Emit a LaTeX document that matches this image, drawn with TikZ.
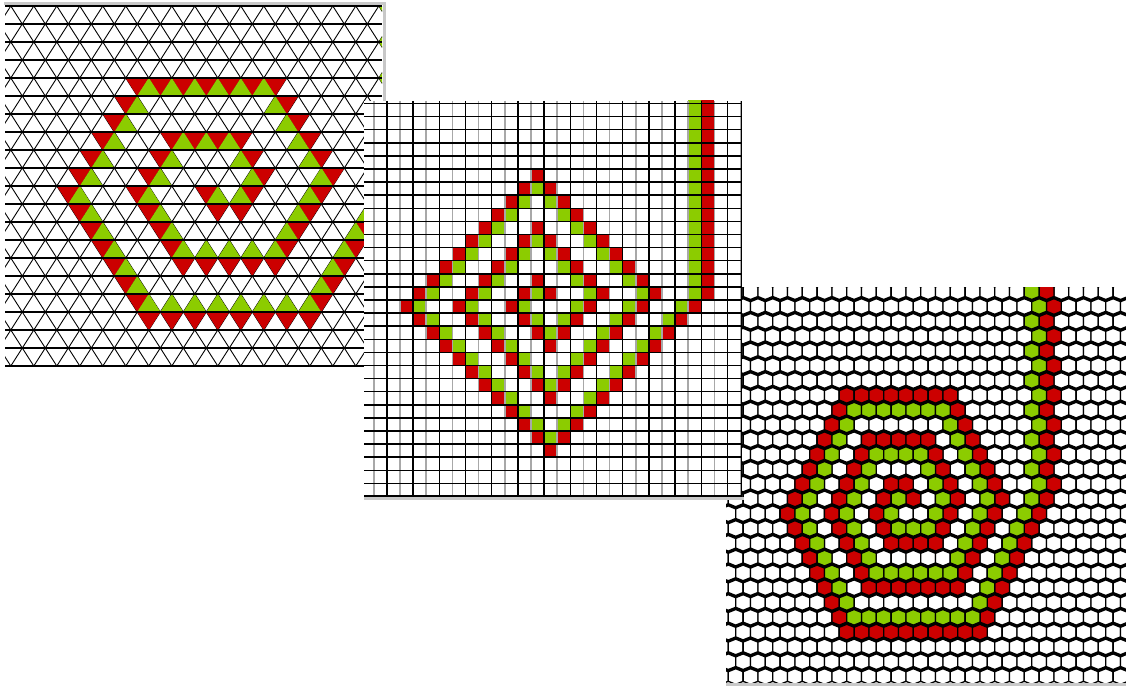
\documentclass[tikz,border=0pt]{standalone}
\usepackage{xcolor}
\usepackage{tikz}
\definecolor{cVerm}{HTML}{CC0000}
\definecolor{cVerd}{HTML}{8CCC00}
\definecolor{cCinza}{HTML}{A8A8A8}
\definecolor{cBorda}{HTML}{C8C8C8}

% ---- celulas das tres redes
\newcommand{\triBx}[3]{\fill[#3] ({171.8+23*(#1)-11.5*(#2)},{6+18*(#2)}) -- ++(23,0) -- ++(-11.5,18) -- cycle;}
\newcommand{\triCm}[3]{\fill[#3] ({171.8+23*(#1)-11.5*(#2)},{6+18*(#2)}) -- ++(11.5,18) -- ++(-23,0) -- cycle;}
\newcommand{\celQ}[3]{\fill[#3] ({400+13.1*(#1)},{300+13.1*(#2)}) rectangle ++(13.1,13.1);}
\newcommand{\celA}[3]{\filldraw[hexc,fill=#3] ({839.3+14.8*(#1)+7.4*(#2)},{291.7+14.8*(#2)})
  ++(0,-7.8) -- ++(7.4,3) -- ++(0,9.6) -- ++(-7.4,3) -- ++(-7.4,-3) -- ++(0,-9.6) -- cycle;}

\begin{document}
\begin{tikzpicture}[
  x=1pt,y=-1pt,
  linhaH/.style={draw=black,line width=1.6pt},
  linhaD/.style={draw=black,line width=0.9pt},
  gradeP/.style={draw=black,line width=1.5pt},
  gradeC/.style={draw=cCinza,line width=1.5pt},
  hexc/.style={draw=black,line width=1.3pt,line join=round},
  borda/.style={draw=cBorda,line width=2.5pt}
]
\useasboundingbox[fill=white] (0,0) rectangle (1126,690);

% ---- painel 1: rede triangular
\begin{scope}
\clip (5,5) rectangle (382,367);
\foreach \uu in {-18,...,20}{
  \draw[linhaD] ({171.8+23*\uu},6) -- ++(-230,360);
  \draw[linhaD] ({171.8+23*\uu},6) -- ++(230,360);
}
% vermelho, anel externo
\foreach \jj in {9,...,17}{\triBx{14}{\jj}{cVerm}}
\foreach \uu in {7,...,13}{\triBx{\uu}{17}{cVerm}}
\foreach \kk in {0,...,7}{\triBx{\kk}{10+\kk}{cVerm}}
\foreach \jj in {4,...,9}{\triBx{0}{\jj}{cVerm}}
\foreach \uu in {0,...,6}{\triBx{\uu}{4}{cVerm}}
\foreach \kk in {0,...,5}{\triBx{6+\kk}{4+\kk}{cVerm}}
% vermelho, aneis internos
\foreach \jj in {9,...,14}{\triBx{11}{\jj}{cVerm}}
\foreach \uu in {7,...,10}{\triBx{\uu}{14}{cVerm}}
\foreach \kk in {0,...,4}{\triBx{3+\kk}{10+\kk}{cVerm}}
\foreach \jj in {7,...,10}{\triBx{3}{\jj}{cVerm}}
\foreach \uu in {3,...,6}{\triBx{\uu}{7}{cVerm}}
\foreach \kk in {0,...,2}{\triBx{6+\kk}{7+\kk}{cVerm}}
\triBx{8}{10}{cVerm} \triBx{8}{11}{cVerm} \triBx{7}{11}{cVerm} \triBx{6}{10}{cVerm}
% verde
\triBx{9}{0}{cVerd} \triCm{10}{1}{cVerd} \triBx{10}{2}{cVerd}
\triCm{11}{3}{cVerd} \triBx{11}{4}{cVerd} \triCm{12}{5}{cVerd}
\foreach \jj in {9,...,16}{\triCm{14}{\jj}{cVerd}}
\foreach \uu in {7,...,13}{\triCm{\uu}{16}{cVerd}}
\foreach \kk in {0,...,6}{\triCm{1+\kk}{10+\kk}{cVerd}}
\foreach \jj in {4,...,10}{\triCm{1}{\jj}{cVerd}}
\foreach \uu in {1,...,6}{\triCm{\uu}{4}{cVerd}}
\foreach \kk in {0,...,5}{\triCm{6+\kk}{4+\kk}{cVerd}}
\foreach \jj in {9,...,13}{\triCm{11}{\jj}{cVerd}}
\foreach \uu in {7,...,10}{\triCm{\uu}{13}{cVerd}}
\foreach \kk in {0,...,3}{\triCm{4+\kk}{10+\kk}{cVerd}}
\foreach \jj in {7,...,10}{\triCm{4}{\jj}{cVerd}}
\foreach \uu in {4,...,6}{\triCm{\uu}{7}{cVerd}}
\foreach \kk in {0,...,2}{\triCm{6+\kk}{7+\kk}{cVerd}}
\triCm{8}{10}{cVerd} \triCm{7}{10}{cVerd}
\foreach \jj in {0,...,20}{\draw[linhaH] (5,{6+18*\jj}) -- (382,{6+18*\jj});}
\end{scope}
\draw[borda] (4,3.5) -- (384.5,3.5) -- (384.5,101);

% ---- painel 3: rede hexagonal
\begin{scope}
\clip (726,287) rectangle (1126,682);
\fill[black] (726,287) rectangle (1126,682);
\foreach \rr in {0,...,27}{
  \foreach \ii in {-9,...,20}{
    \pgfmathtruncatemacro\qq{\ii-floor(\rr/2)}
    \celA{\qq}{\rr}{white}
  }
}
% vermelho
\foreach \rr in {0,...,13}{\pgfmathtruncatemacro\qq{14-floor(\rr/2)}\celA{\qq}{\rr}{cVerm}}
\foreach \rr in {14,...,23}{\celA{21-\rr}{\rr}{cVerm}}
\foreach \qq in {-11,...,-2}{\celA{\qq}{23}{cVerm}}
\foreach \rr in {15,...,23}{\celA{-11}{\rr}{cVerm}}
\foreach \rr in {7,...,15}{\celA{4-\rr}{\rr}{cVerm}}
\foreach \qq in {-3,...,4}{\celA{\qq}{7}{cVerm}}
\foreach \rr in {7,...,14}{\celA{4}{\rr}{cVerm}}
\foreach \rr in {14,...,20}{\celA{18-\rr}{\rr}{cVerm}}
\foreach \qq in {-8,...,-2}{\celA{\qq}{20}{cVerm}}
\foreach \rr in {15,...,20}{\celA{-8}{\rr}{cVerm}}
\foreach \rr in {10,...,15}{\celA{7-\rr}{\rr}{cVerm}}
\foreach \qq in {-3,...,1}{\celA{\qq}{10}{cVerm}}
\foreach \rr in {10,...,14}{\celA{1}{\rr}{cVerm}}
\foreach \rr in {14,...,17}{\celA{15-\rr}{\rr}{cVerm}}
\foreach \qq in {-5,...,-2}{\celA{\qq}{17}{cVerm}}
\foreach \rr in {15,...,17}{\celA{-5}{\rr}{cVerm}}
\foreach \rr in {13,...,15}{\celA{10-\rr}{\rr}{cVerm}}
\celA{-2}{13}{cVerm} \celA{-2}{14}{cVerm}
% verde
\foreach \rr in {0,...,12}{\pgfmathtruncatemacro\qq{13-floor(\rr/2)}\celA{\qq}{\rr}{cVerd}}
\foreach \rr in {13,...,22}{\celA{20-\rr}{\rr}{cVerd}}
\foreach \qq in {-10,...,-2}{\celA{\qq}{22}{cVerd}}
\foreach \rr in {15,...,22}{\celA{-10}{\rr}{cVerd}}
\foreach \rr in {8,...,15}{\celA{5-\rr}{\rr}{cVerd}}
\foreach \qq in {-3,...,3}{\celA{\qq}{8}{cVerd}}
\foreach \rr in {8,...,14}{\celA{3}{\rr}{cVerd}}
\foreach \rr in {14,...,19}{\celA{17-\rr}{\rr}{cVerd}}
\foreach \qq in {-7,...,-2}{\celA{\qq}{19}{cVerd}}
\foreach \rr in {15,...,19}{\celA{-7}{\rr}{cVerd}}
\foreach \rr in {11,...,15}{\celA{8-\rr}{\rr}{cVerd}}
\foreach \qq in {-3,...,0}{\celA{\qq}{11}{cVerd}}
\foreach \rr in {11,...,14}{\celA{0}{\rr}{cVerd}}
\foreach \rr in {14,...,16}{\celA{14-\rr}{\rr}{cVerd}}
\foreach \qq in {-4,...,-2}{\celA{\qq}{16}{cVerd}}
\celA{-4}{15}{cVerd} \celA{-3}{14}{cVerd}
\end{scope}
\draw[borda] (726,684.5) -- (1126,684.5);

% ---- painel 2: rede quadrada
\begin{scope}
\clip (364,101) rectangle (742,496);
\fill[white] (364,101) rectangle (742,496);
% vermelho
\foreach \rr in {-16,...,-1}{\celQ{23}{\rr}{cVerm}}
\foreach \rr in {0,...,11}{\celQ{22-\rr}{\rr}{cVerm}}
\foreach \cc in {0,...,10}{\celQ{\cc}{\cc}{cVerm}}
\foreach \cc in {1,...,10}{\celQ{\cc}{-\cc}{cVerm}}
\foreach \cc in {11,...,19}{\celQ{\cc}{\cc-20}{cVerm}}
\foreach \rr in {0,...,7}{\celQ{18-\rr}{\rr}{cVerm}}
\foreach \cc in {4,...,10}{\celQ{\cc}{\cc-4}{cVerm}}
\foreach \cc in {5,...,10}{\celQ{\cc}{4-\cc}{cVerm}}
\foreach \cc in {11,...,15}{\celQ{\cc}{\cc-16}{cVerm}}
\foreach \rr in {0,...,3}{\celQ{14-\rr}{\rr}{cVerm}}
\foreach \cc in {8,...,10}{\celQ{\cc}{\cc-8}{cVerm}}
\celQ{9}{-1}{cVerm} \celQ{10}{-2}{cVerm} \celQ{11}{-1}{cVerm}
% verde
\foreach \rr in {-16,...,-1}{\celQ{22}{\rr}{cVerd}}
\foreach \rr in {0,...,10}{\celQ{21-\rr}{\rr}{cVerd}}
\foreach \cc in {1,...,10}{\celQ{\cc}{\cc-1}{cVerd}}
\foreach \cc in {2,...,10}{\celQ{\cc}{1-\cc}{cVerd}}
\foreach \cc in {11,...,18}{\celQ{\cc}{\cc-19}{cVerd}}
\foreach \rr in {0,...,6}{\celQ{17-\rr}{\rr}{cVerd}}
\foreach \cc in {5,...,10}{\celQ{\cc}{\cc-5}{cVerd}}
\foreach \cc in {6,...,10}{\celQ{\cc}{5-\cc}{cVerd}}
\foreach \cc in {11,...,14}{\celQ{\cc}{\cc-15}{cVerd}}
\foreach \rr in {0,...,2}{\celQ{13-\rr}{\rr}{cVerd}}
\celQ{9}{0}{cVerd} \celQ{10}{1}{cVerd} \celQ{10}{-1}{cVerd}
% linhas da grade
\foreach \kk in {-2,0,...,26}{\draw[gradeC] ({400+13.1*\kk},101) -- ++(0,395);}
\foreach \kk in {-3,-1,...,25}{\draw[gradeP] ({400+13.1*\kk},101) -- ++(0,395);}
\foreach \kk in {-16,...,16}{\draw[gradeP] (364,{300+13.1*\kk}) -- ++(378,0);}
\end{scope}
\draw[black,line width=1.8pt] (741.5,101) -- (741.5,495.5) -- (364,495.5);
\draw[borda] (364,498.5) -- (744,498.5);
\end{tikzpicture}
\end{document}
